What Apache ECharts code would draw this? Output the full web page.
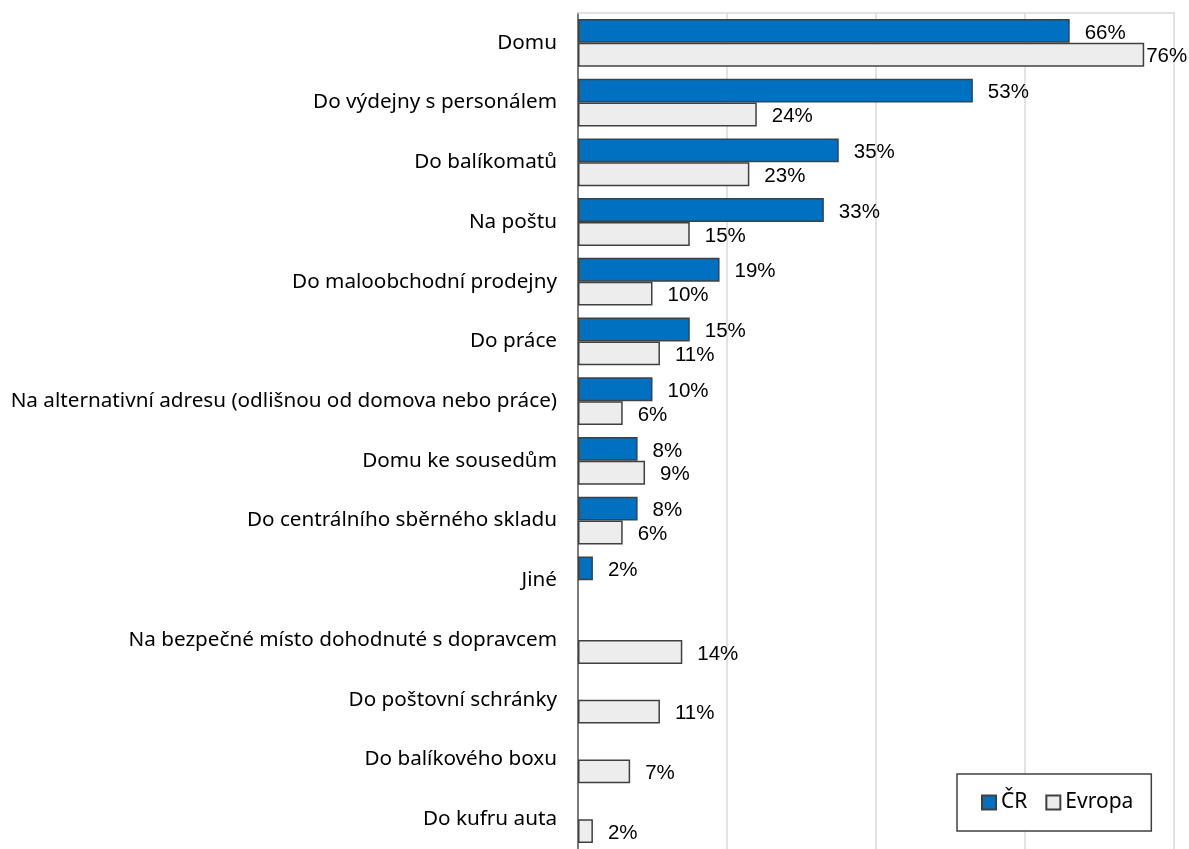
<!DOCTYPE html>
<html>
<head>
<meta charset="utf-8">
<script src="https://cdn.jsdelivr.net/npm/echarts@6/dist/echarts.min.js"></script>
<style>
  html, body { margin: 0; padding: 0; background: #fff; }
  #chart { width: 1189px; height: 849px; }
</style>
</head>
<body>
<div id="chart"></div>
<script>
// Delivery places, top to bottom
const categories = [
  'Domu',
  'Do výdejny s personálem',
  'Do balíkomatů',
  'Na poštu',
  'Do maloobchodní prodejny',
  'Do práce',
  'Na alternativní adresu (odlišnou od domova nebo práce)',
  'Domu ke sousedům',
  'Do centrálního sběrného skladu',
  'Jiné',
  'Na bezpečné místo dohodnuté s dopravcem',
  'Do poštovní schránky',
  'Do balíkového boxu',
  'Do kufru auta'
];
// Shares in percent; null = not surveyed for that region
const valuesCR = [66, 53, 35, 33, 19, 15, 10, 8, 8, 2, null, null, null, null];
const valuesEU = [76, 24, 23, 15, 10, 11, 6, 9, 6, null, 14, 11, 7, 2];
const xTicks = [0, 20, 40, 60, 80];

const labelFont = '"Noto Sans", sans-serif';
const valueFont = '"Liberation Sans", Arial, sans-serif';
const edge = '#404040';

const valueLabel = {
  show: true,
  position: 'right',
  distance: 15,
  offset: [0, 2],
  fontFamily: valueFont,
  fontSize: 20.5,
  color: '#000',
  formatter: p => p.value + '%'
};

function toData(arr) {
  return arr.map(v => v === null ? '-' : v);
}

// The longest bar sits at the plot edge, so its label hugs the bar end
const euMax = Math.max(...valuesEU.filter(x => x !== null));
const euData = toData(valuesEU).map(v =>
  v === euMax ? { value: v, label: { distance: 2 } } : v
);

const chart = echarts.init(document.getElementById('chart'));
chart.setOption({
  animation: false,
  backgroundColor: '#fff',
  grid: { left: 578, top: 13, width: 596, height: 842, containLabel: false },
  xAxis: {
    type: 'value',
    position: 'top',
    min: xTicks[0],
    max: xTicks[xTicks.length - 1],
    interval: xTicks[1] - xTicks[0],
    axisLine: { show: true, lineStyle: { color: '#D9D9D9', width: 1.5 } },
    axisTick: { show: false },
    axisLabel: { show: false },
    splitLine: { show: true, lineStyle: { color: '#D9D9D9', width: 1.5 } }
  },
  yAxis: {
    type: 'category',
    inverse: true,
    data: categories,
    axisLine: { show: true, onZero: false, lineStyle: { color: '#595959', width: 1.5 } },
    axisTick: { show: false },
    axisLabel: {
      margin: 21,
      padding: [4, 0, 0, 0],
      fontFamily: labelFont,
      fontSize: 20.7,
      color: '#000'
    }
  },
  legend: {
    left: 957,
    top: 774,
    orient: 'horizontal',
    data: ['ČR', 'Evropa'],
    icon: 'rect',
    itemWidth: 14,
    itemHeight: 14,
    itemGap: 18,
    padding: [18, 18, 18, 24],
    borderColor: edge,
    borderWidth: 1.5,
    backgroundColor: '#fff',
    textStyle: { fontFamily: labelFont, fontSize: 21, color: '#000' }
  },
  series: [
    {
      name: 'ČR',
      type: 'bar',
      data: toData(valuesCR),
      barGap: '0%',
      barCategoryGap: '20%',
      itemStyle: { color: '#0070C0', borderColor: edge, borderWidth: 1.5 },
      label: valueLabel
    },
    {
      name: 'Evropa',
      type: 'bar',
      data: euData,
      barGap: '0%',
      barCategoryGap: '20%',
      itemStyle: { color: '#EDEDED', borderColor: edge, borderWidth: 1.5 },
      label: valueLabel
    }
  ]
});
</script>
</body>
</html>
